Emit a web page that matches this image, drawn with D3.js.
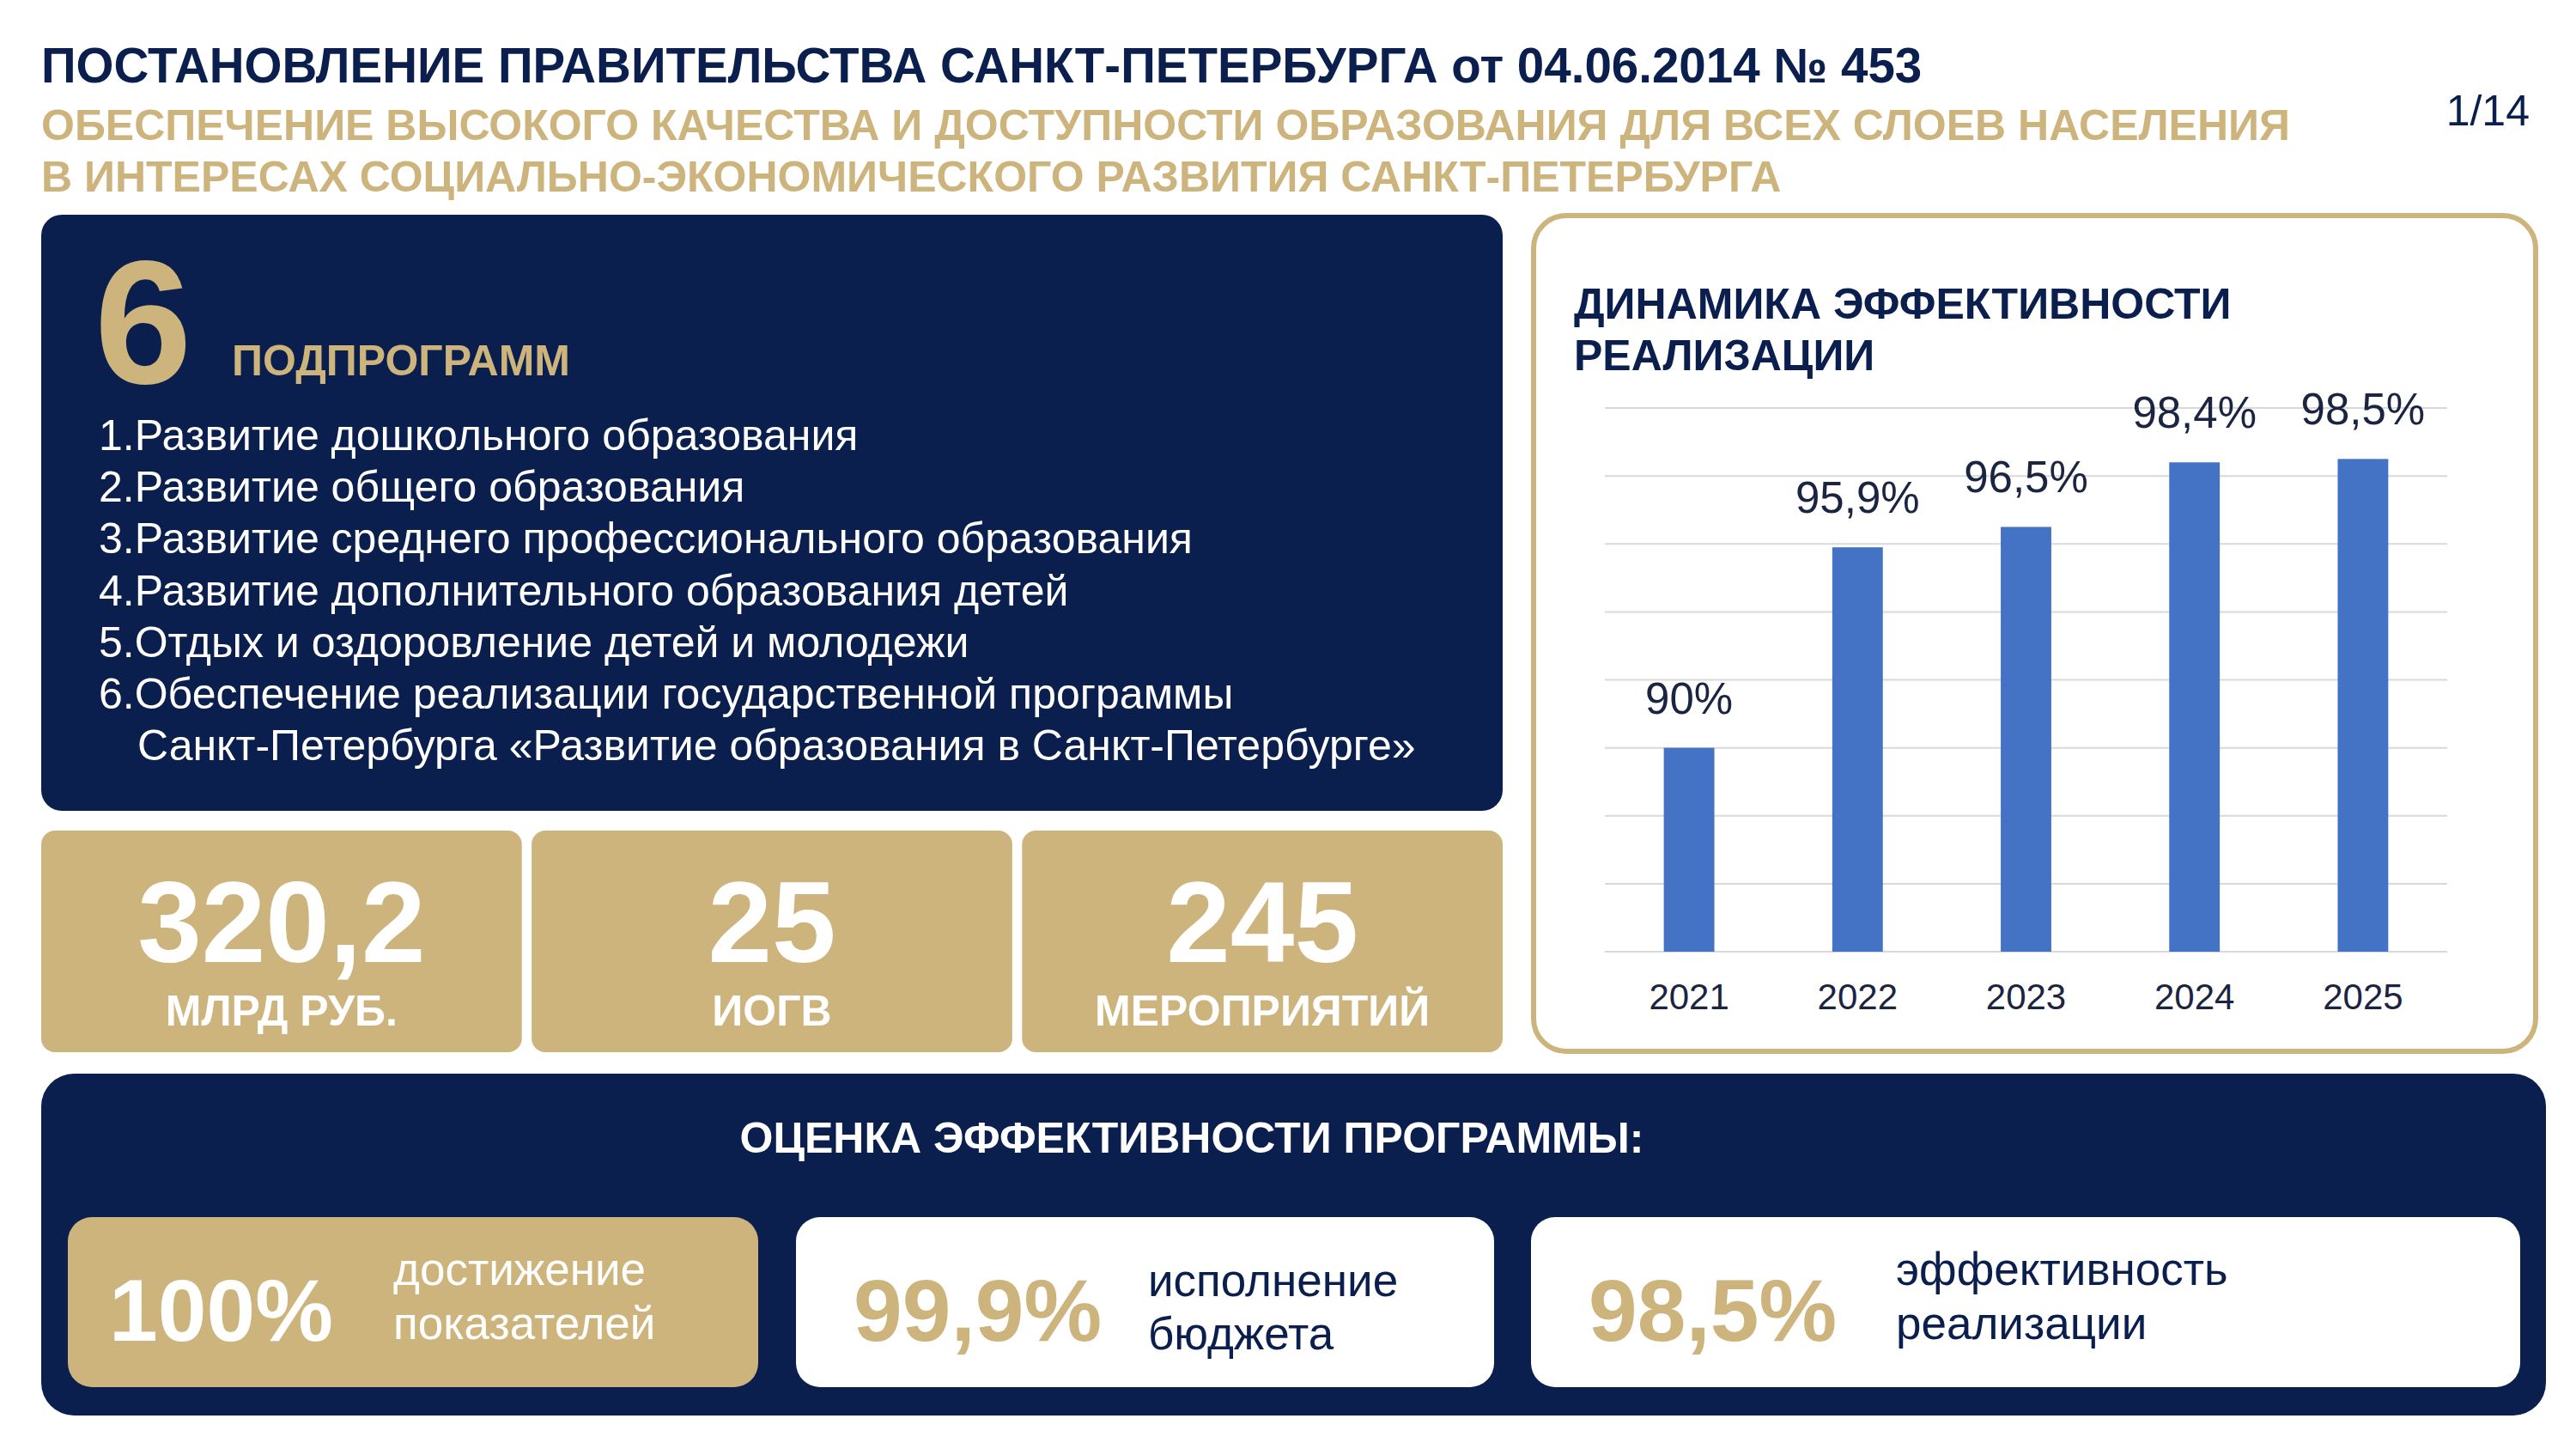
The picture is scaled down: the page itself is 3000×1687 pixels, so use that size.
<!DOCTYPE html>
<html><head><meta charset="utf-8">
<script src="https://cdn.jsdelivr.net/npm/d3@7"></script>
<style>
html,body{margin:0;padding:0;background:#fff;}
svg{display:block;font-family:"Liberation Sans",Arial,sans-serif;}
</style></head>
<body>
<svg id="c" width="3000" height="1687"></svg>
<script>
// ---- data ----
const titleLine = "ПОСТАНОВЛЕНИЕ ПРАВИТЕЛЬСТВА САНКТ-ПЕТЕРБУРГА от 04.06.2014 № 453";
const subtitleLines = [
  "ОБЕСПЕЧЕНИЕ ВЫСОКОГО КАЧЕСТВА И ДОСТУПНОСТИ ОБРАЗОВАНИЯ ДЛЯ ВСЕХ СЛОЕВ НАСЕЛЕНИЯ",
  "В ИНТЕРЕСАХ СОЦИАЛЬНО-ЭКОНОМИЧЕСКОГО РАЗВИТИЯ САНКТ-ПЕТЕРБУРГА"
];
const pageLabel = "1/14";
const subprogramCount = "6";
const subprogramWord = "ПОДПРОГРАММ";
const subprograms = [
  "1.Развитие дошкольного образования",
  "2.Развитие общего образования",
  "3.Развитие среднего профессионального образования",
  "4.Развитие дополнительного образования детей",
  "5.Отдых и оздоровление детей и молодежи",
  "6.Обеспечение реализации государственной программы",
  "Санкт-Петербурга «Развитие образования в Санкт-Петербурге»"
];
const statValues = ["320,2", "25", "245"];
const statLabels = ["МЛРД РУБ.", "ИОГВ", "МЕРОПРИЯТИЙ"];
const chartTitle = ["ДИНАМИКА ЭФФЕКТИВНОСТИ", "РЕАЛИЗАЦИИ"];
const years = ["2021", "2022", "2023", "2024", "2025"];
const efficiency = [90, 95.9, 96.5, 98.4, 98.5];
const efficiencyLabels = ["90%", "95,9%", "96,5%", "98,4%", "98,5%"];
const yDomain = [84, 100];
const yTicks = [84, 86, 88, 90, 92, 94, 96, 98, 100];
const evalTitle = "ОЦЕНКА ЭФФЕКТИВНОСТИ ПРОГРАММЫ:";
const evalValues = ["100%", "99,9%", "98,5%"];
const evalLabels = [["достижение", "показателей"], ["исполнение", "бюджета"], ["эффективность", "реализации"]];

// ---- styles ----
const NAVY = "#0a1f4e", GOLD = "#cdb47c", BAR = "#4472c4", GRID = "#d9d9d9", TXT = "#1b2440";
const svg = d3.select("#c");

// header
svg.append("text").attr("x", 48).attr("y", 96).attr("fill", NAVY)
  .attr("font-weight", "bold").attr("font-size", 56.5).text(titleLine);
svg.selectAll("text.sub").data(subtitleLines).join("text").attr("class", "sub")
  .attr("x", 48).attr("y", (d, i) => 163 + i * 60).attr("fill", GOLD)
  .attr("font-weight", "bold").attr("font-size", 50).text(d => d);
svg.append("text").attr("x", 2946).attr("y", 146).attr("text-anchor", "end")
  .attr("fill", NAVY).attr("font-size", 50).text(pageLabel);

// subprogram panel
svg.append("rect").attr("x", 48).attr("y", 250).attr("width", 1702).attr("height", 694)
  .attr("rx", 24).attr("fill", NAVY);
svg.append("text").attr("x", 110).attr("y", 446).attr("fill", GOLD).attr("font-weight", "bold")
  .attr("font-size", 204).text(subprogramCount);
svg.append("text").attr("x", 270).attr("y", 437).attr("fill", GOLD).attr("font-weight", "bold")
  .attr("font-size", 50).text(subprogramWord);
svg.selectAll("text.sp").data(subprograms).join("text").attr("class", "sp")
  .attr("x", (d, i) => i === 6 ? 160 : 115).attr("y", (d, i) => 524 + i * 60.2)
  .attr("fill", "#fff").attr("font-size", 50).text(d => d);

// stat boxes
const statX = d3.scaleBand().domain(d3.range(3)).range([48, 1750]).paddingInner(0.02);
const sg = svg.selectAll("g.stat").data(statValues).join("g").attr("class", "stat")
  .attr("transform", (d, i) => `translate(${statX(i)},967)`);
sg.append("rect").attr("width", statX.bandwidth()).attr("height", 258).attr("rx", 16).attr("fill", GOLD);
sg.append("text").attr("x", statX.bandwidth() / 2).attr("y", 153).attr("text-anchor", "middle")
  .attr("fill", "#fff").attr("font-weight", "bold").attr("font-size", 134).text(d => d);
sg.append("text").attr("x", statX.bandwidth() / 2).attr("y", 227).attr("text-anchor", "middle")
  .attr("fill", "#fff").attr("font-weight", "bold").attr("font-size", 50).text((d, i) => statLabels[i]);

// chart panel
svg.append("rect").attr("x", 1786).attr("y", 251).attr("width", 1167).attr("height", 973)
  .attr("rx", 38).attr("fill", "#fff").attr("stroke", GOLD).attr("stroke-width", 6);
svg.selectAll("text.ct").data(chartTitle).join("text").attr("class", "ct")
  .attr("x", 1833).attr("y", (d, i) => 371 + i * 60).attr("fill", NAVY)
  .attr("font-weight", "bold").attr("font-size", 50).text(d => d);

const x = d3.scaleBand().domain(years).range([1869, 2850]).paddingInner(0.7).paddingOuter(0.35);
const y = d3.scaleLinear().domain(yDomain).range([1108, 475]);
const plot = svg.append("g");
plot.selectAll("line.grid").data(yTicks).join("line").attr("class", "grid")
  .attr("x1", 1869).attr("x2", 2850).attr("y1", d => y(d)).attr("y2", d => y(d))
  .attr("stroke", GRID).attr("stroke-width", 2);
plot.selectAll("rect.bar").data(efficiency).join("rect").attr("class", "bar")
  .attr("x", (d, i) => x(years[i])).attr("width", x.bandwidth())
  .attr("y", d => y(d)).attr("height", d => y(yDomain[0]) - y(d)).attr("fill", BAR);
plot.selectAll("text.val").data(efficiency).join("text").attr("class", "val")
  .attr("x", (d, i) => x(years[i]) + x.bandwidth() / 2).attr("y", d => y(d) - 40)
  .attr("text-anchor", "middle").attr("fill", TXT).attr("font-size", 51)
  .text((d, i) => efficiencyLabels[i]);
const xAxis = d3.axisBottom(x).tickSize(0).tickPadding(0);
const ax = plot.append("g").attr("transform", "translate(0,1108)").call(xAxis);
ax.select(".domain").remove();
ax.selectAll("text").attr("y", 67).attr("dy", 0).attr("font-size", 42).attr("fill", TXT)
  .attr("font-family", "Liberation Sans, Arial, sans-serif");

// evaluation panel
svg.append("rect").attr("x", 48).attr("y", 1250).attr("width", 2917).attr("height", 398)
  .attr("rx", 38).attr("fill", NAVY);
svg.append("text").attr("x", 1388).attr("y", 1342).attr("text-anchor", "middle").attr("fill", "#fff")
  .attr("font-weight", "bold").attr("font-size", 50).text(evalTitle);
const evalBoxes = [
  {x: 79, w: 804, fill: GOLD, num: "#fff", lab: "#fff", tx: 379, ly: [1496, 1559]},
  {x: 927, w: 813, fill: "#fff", num: GOLD, lab: NAVY, tx: 410, ly: [1509, 1571]},
  {x: 1783, w: 1152, fill: "#fff", num: GOLD, lab: NAVY, tx: 425, ly: [1496, 1559]}
];
const eg = svg.selectAll("g.ev").data(evalValues).join("g").attr("class", "ev")
  .attr("transform", (d, i) => `translate(${evalBoxes[i].x},1417)`);
eg.append("rect").attr("width", (d, i) => evalBoxes[i].w).attr("height", 198).attr("rx", 28)
  .attr("fill", (d, i) => evalBoxes[i].fill);
eg.append("text").attr("x", (d, i) => i === 0 ? 48 : 67).attr("y", 144)
  .attr("fill", (d, i) => evalBoxes[i].num).attr("font-weight", "bold").attr("font-size", 102)
  .text(d => d);
eg.each(function (d, i) {
  d3.select(this).selectAll("text.el").data(evalLabels[i]).join("text").attr("class", "el")
    .attr("x", evalBoxes[i].tx).attr("y", (t, j) => evalBoxes[i].ly[j] - 1417)
    .attr("fill", evalBoxes[i].lab).attr("font-size", 53).text(t => t);
});
</script>
</body></html>
